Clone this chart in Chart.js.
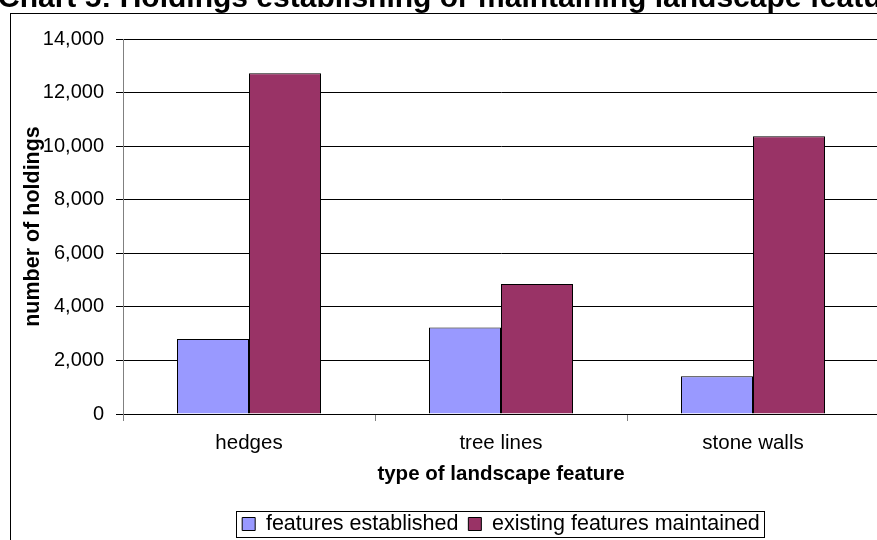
<!DOCTYPE html>
<html>
<head>
<meta charset="utf-8">
<script src="https://cdn.jsdelivr.net/npm/chart.js@4/dist/chart.umd.min.js"></script>
<style>
  html, body { margin: 0; padding: 0; overflow: hidden; background: #fff; }
  #wrap { position: absolute; left: 0; top: 0; width: 900px; height: 560px; }
  canvas { display: block; }
</style>
</head>
<body>
<div id="wrap"><canvas id="chart" width="900" height="560" style="width:900px;height:560px"></canvas></div>
<script>
// Chart text
const chartTitle = 'Chart 5: Holdings establishing or maintaining landscape features';
const xAxisTitle = 'type of landscape feature';
const yAxisTitle = 'number of holdings';

// Categories and series
const categories = ['hedges', 'tree lines', 'stone walls'];
const seriesNames = ['features established', 'existing features maintained'];
const featuresEstablished = [2800, 3230, 1410];
const featuresMaintained = [12720, 4850, 10370];

// Value axis ticks
const yTickValues = [0, 2000, 4000, 6000, 8000, 10000, 12000, 14000];

const FONT = "'Liberation Sans', Arial, Helvetica, sans-serif";

// Outer frame and the heading line at the top edge
const framePlugin = {
  id: 'frame',
  beforeDraw(chart) {
    const ctx = chart.ctx;
    ctx.save();
    ctx.fillStyle = '#ffffff';
    ctx.fillRect(0, 0, chart.width, chart.height);
    ctx.strokeStyle = '#000000';
    ctx.lineWidth = 1;
    ctx.strokeRect(10.5, 13.5, 2000, 2000);
    ctx.restore();
  },
  afterDraw(chart) {
    const ctx = chart.ctx;
    ctx.save();
    ctx.fillStyle = '#000000';
    ctx.font = 'bold 30px ' + FONT;
    ctx.textAlign = 'left';
    ctx.textBaseline = 'alphabetic';
    ctx.fillText(chartTitle, -2, 6.5);
    ctx.restore();
  }
};

// Centre the legend under the plot area and box it in
const legendPlugin = {
  id: 'legendFrame',
  afterLayout(chart) {
    const lg = chart.legend;
    if (!lg) return;
    const target = (chart.chartArea.left + chart.chartArea.right) / 2;
    const shift = target - (lg.left + lg.right) / 2;
    lg.left += shift;
    lg.right += shift;
  },
  afterDraw(chart) {
    const lg = chart.legend;
    if (!lg || !lg.legendHitBoxes || !lg.legendHitBoxes.length) return;
    const boxes = lg.legendHitBoxes;
    let l = Infinity, r = -Infinity, t = Infinity, b = -Infinity;
    boxes.forEach(h => {
      l = Math.min(l, h.left); r = Math.max(r, h.left + h.width);
      t = Math.min(t, h.top); b = Math.max(b, h.top + h.height);
    });
    const cy = (t + b) / 2;
    const ctx = chart.ctx;
    ctx.save();
    ctx.strokeStyle = '#000000';
    ctx.lineWidth = 1;
    const x0 = Math.round(l - 6) + 0.5, x1 = Math.round(r + 4) + 0.5;
    const y0 = Math.round(cy - 13) + 0.5, y1 = Math.round(cy + 13) + 0.5;
    ctx.strokeRect(x0, y0, x1 - x0, y1 - y0);
    ctx.restore();
  }
};

new Chart(document.getElementById('chart'), {
  type: 'bar',
  data: {
    labels: categories,
    datasets: [
      {
        label: seriesNames[0],
        data: featuresEstablished,
        backgroundColor: '#9999FF',
        borderColor: '#000000',
        borderWidth: 1
      },
      {
        label: seriesNames[1],
        data: featuresMaintained,
        backgroundColor: '#993366',
        borderColor: '#000000',
        borderWidth: 1
      }
    ]
  },
  options: {
    responsive: false,
    animation: false,
    devicePixelRatio: 1,
    datasets: {
      bar: { categoryPercentage: 2 / 3.5, barPercentage: 1.0 }
    },
    layout: { padding: { top: 39, left: 12, right: 21, bottom: 15.25 } },
    plugins: {
      title: { display: false },
      tooltip: { enabled: false },
      legend: {
        display: true,
        position: 'bottom',
        labels: {
          color: '#000000',
          font: { family: FONT, size: 21.5 },
          boxWidth: 13,
          boxHeight: 13,
          padding: 10
        }
      }
    },
    scales: {
      x: {
        offset: true,
        grid: {
          display: true,
          offset: true,
          drawOnChartArea: false,
          drawTicks: true,
          tickLength: 7,
          color: '#808080'
        },
        border: { display: true, color: '#000000', width: 1 },
        ticks: {
          color: '#000000',
          font: { family: FONT, size: 20.5 },
          padding: 10,
          maxRotation: 0
        },
        title: {
          display: true,
          text: xAxisTitle,
          color: '#000000',
          font: { family: FONT, size: 20.5, weight: 'bold' },
          padding: { top: 0, bottom: 17 }
        },
        afterFit(scale) { scale.height = 89.25; }
      },
      y: {
        min: 0,
        max: 14000,
        grid: {
          color: '#000000',
          lineWidth: 1,
          drawTicks: true,
          tickLength: 7,
          tickColor: '#000000'
        },
        border: { display: true, color: '#808080', width: 1 },
        afterBuildTicks(scale) {
          scale.ticks = yTickValues.map(v => ({ value: v }));
        },
        ticks: {
          color: '#000000',
          font: { family: FONT, size: 20 },
          padding: 12,
          callback: v => Number(v).toLocaleString('en-US')
        },
        title: {
          display: true,
          text: yAxisTitle,
          color: '#000000',
          font: { family: FONT, size: 21.5, weight: 'bold' },
          padding: { top: 8, bottom: 0 }
        },
        afterFit(scale) { scale.width = 111; }
      }
    }
  },
  plugins: [framePlugin, legendPlugin]
});
</script>
</body>
</html>
